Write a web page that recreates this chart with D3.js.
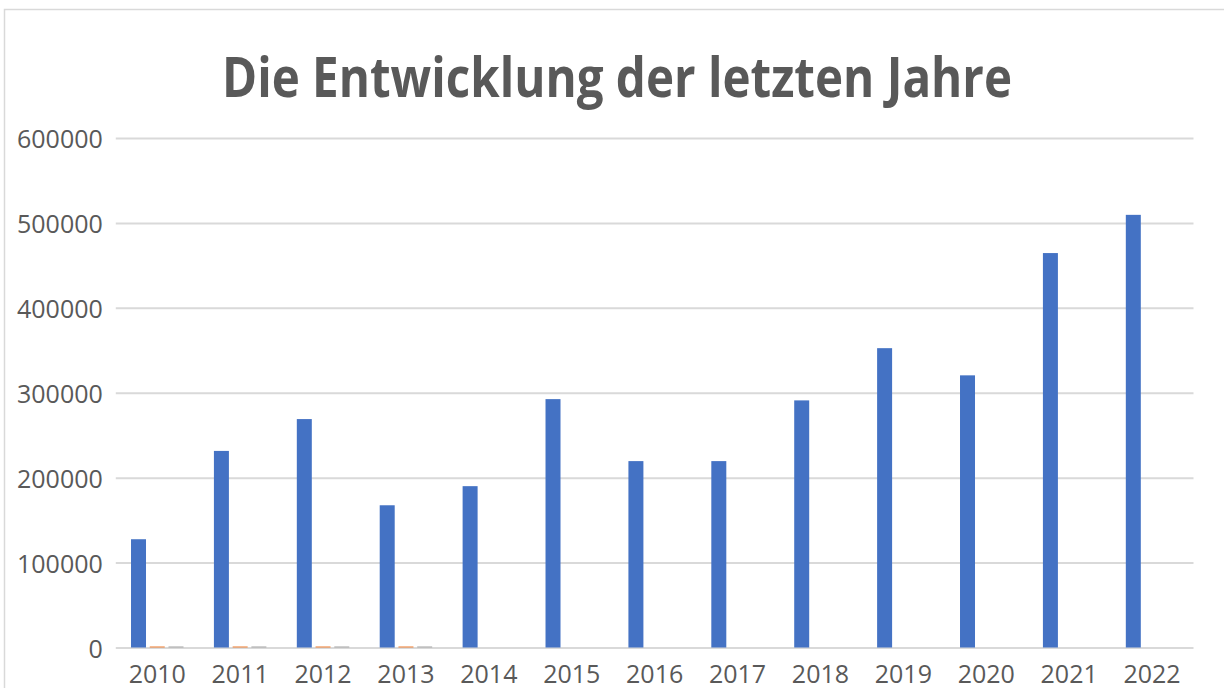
<!DOCTYPE html>
<html>
<head>
<meta charset="utf-8">
<script src="https://cdn.jsdelivr.net/npm/d3@7"></script>
<style>
  html, body { margin: 0; padding: 0; background: #ffffff; }
  svg { display: block; }
</style>
</head>
<body>
<svg id="chart" width="1224" height="688"></svg>
<script>
const titleText = "Die Entwicklung der letzten Jahre";
const years = ["2010","2011","2012","2013","2014","2015","2016","2017","2018","2019","2020","2021","2022"];
const seriesNames = ["Reihe 1", "Reihe 2", "Reihe 3"];
const series1 = [127500, 231500, 269000, 167500, 190000, 292500, 219500, 219500, 291000, 352500, 320500, 464500, 509500];
const series2 = [1200, 1200, 1200, 1200, 0, 0, 0, 0, 0, 0, 0, 0, 0];
const series3 = [1200, 1200, 1200, 1200, 0, 0, 0, 0, 0, 0, 0, 0, 0];
const yTicks = [0, 100000, 200000, 300000, 400000, 500000, 600000];
const colors = ["#4472C4", "#ED7D31", "#A5A5A5"];

const allSeries = [series1, series2, series3];
const rows = years.map((y, i) => ({ year: y, values: allSeries.map((s, k) => ({ key: seriesNames[k], value: s[i], idx: k })) }));

const svg = d3.select("#chart");
const textColor = "#595959";
const gridColor = "#d9d9d9";
const font = "'Open Sans', 'Noto Sans', sans-serif";

// frame
svg.append("rect")
  .attr("x", 4.5).attr("y", 9.5)
  .attr("width", 1260).attr("height", 720)
  .attr("fill", "#ffffff")
  .attr("stroke", gridColor).attr("stroke-width", 1.5);

// title
svg.append("text")
  .attr("x", 617).attr("y", 97)
  .attr("text-anchor", "middle")
  .attr("font-family", font)
  .attr("font-weight", 700)
  .attr("font-size", 56)
  .attr("fill", textColor)
  .attr("textLength", 790)
  .attr("lengthAdjust", "spacingAndGlyphs")
  .text(titleText);

const x0 = d3.scaleBand().domain(years).range([115.8, 1193.5]).paddingInner(0.367).paddingOuter(0.1835);
const x1 = d3.scaleBand().domain(seriesNames).range([0, x0.bandwidth()]).paddingInner(0.2).paddingOuter(0);
const y = d3.scaleLinear().domain([0, 600000]).range([647.5, 138]);

// y axis with gridlines
const yAxis = d3.axisLeft(y)
  .tickValues(yTicks)
  .tickSize(-(1193.5 - 115.8))
  .tickPadding(13)
  .tickFormat(d3.format("d"));

const gy = svg.append("g").attr("transform", "translate(115.8,0)").call(yAxis);
gy.select(".domain").remove();
gy.selectAll(".tick line").attr("stroke", gridColor).attr("stroke-width", 2);
gy.selectAll(".tick text")
  .attr("font-family", font).attr("font-size", 25)
  .attr("fill", textColor).attr("dy", "0.38em");

// x axis
const xAxis = d3.axisBottom(x0).tickSize(0).tickPadding(0);
const gx = svg.append("g").attr("transform", `translate(0,${y(0)})`).call(xAxis);
gx.select(".domain").remove();
gx.selectAll(".tick text")
  .attr("font-family", font).attr("font-size", 25)
  .attr("fill", textColor)
  .attr("y", 35.5).attr("dy", 0);

// bars
const groups = svg.append("g").selectAll("g")
  .data(rows).join("g")
  .attr("transform", d => `translate(${x0(d.year)},0)`);

groups.selectAll("rect")
  .data(d => d.values.filter(v => v.value > 0))
  .join("rect")
  .attr("x", v => x1(v.key))
  .attr("width", x1.bandwidth())
  .attr("y", v => y(v.value))
  .attr("height", v => y(0) - y(v.value))
  .attr("fill", v => colors[v.idx]);
</script>
</body>
</html>
